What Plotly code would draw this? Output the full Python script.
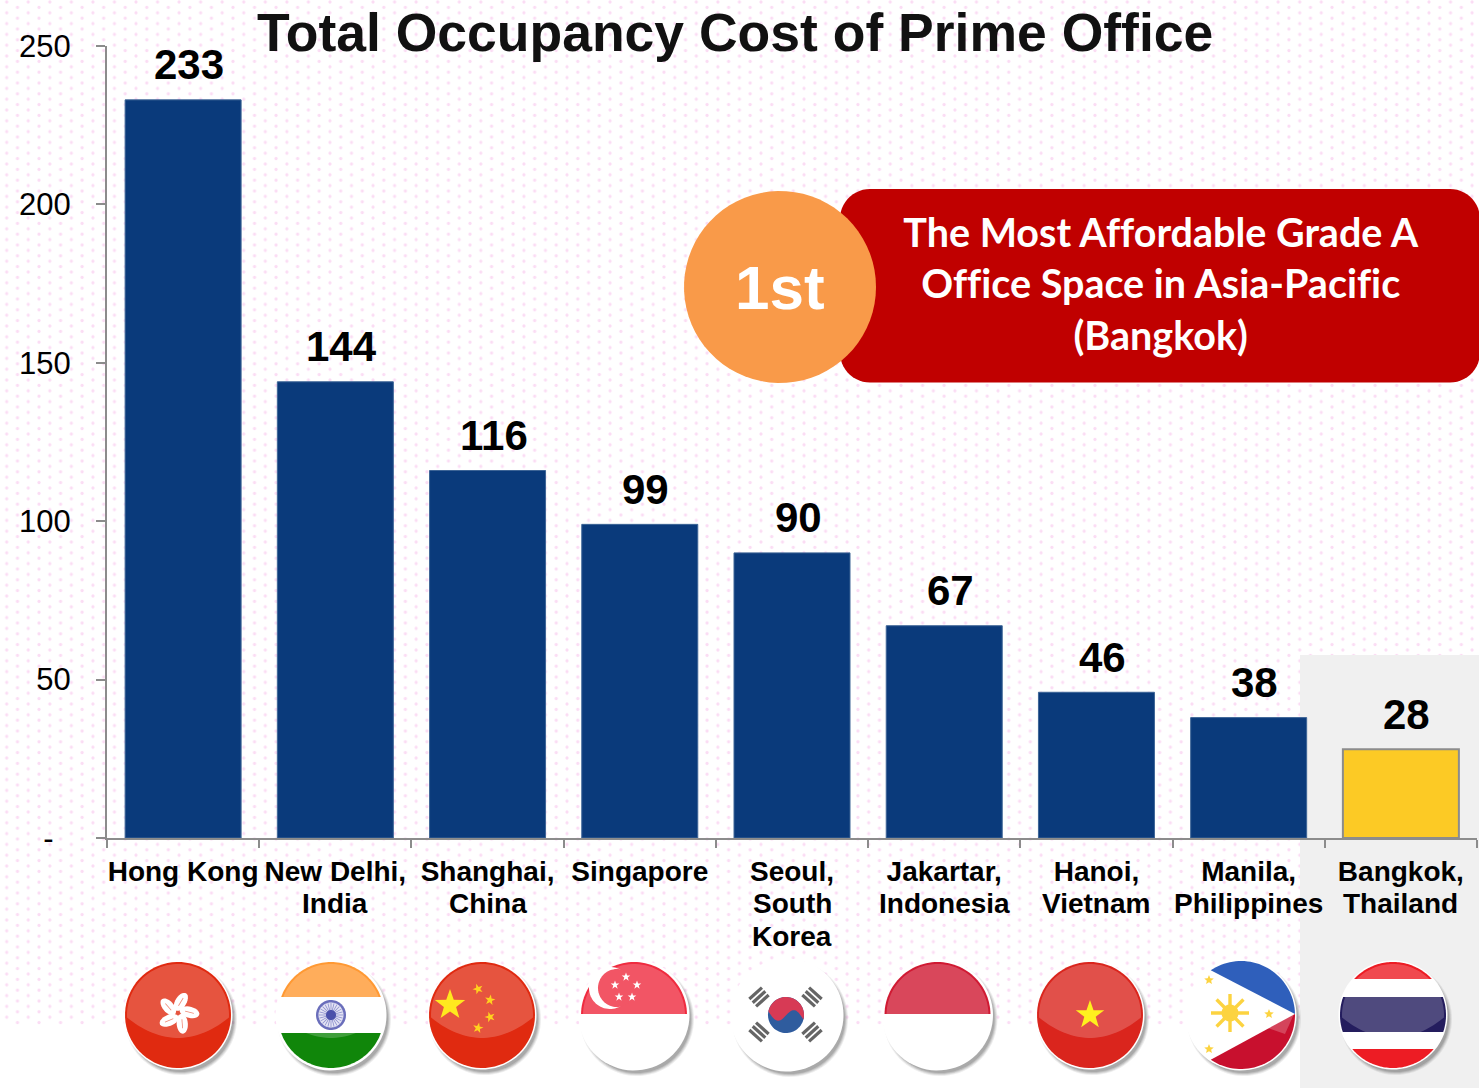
import base64
import numpy as np
import plotly.graph_objects as go

# ---------- data ----------
line1 = ["Hong Kong", "New Delhi,", "Shanghai,", "Singapore", "Seoul,", "Jakartar,", "Hanoi,", "Manila,", "Bangkok,"]
line2 = ["", "India", "China", "", "South", "Indonesia", "Vietnam", "Philippines", "Thailand"]
line3 = ["", "", "", "", "Korea", "", "", "", ""]
values = [233, 144, 116, 99, 90, 67, 46, 38, 28]
y_ticks = [0, 50, 100, 150, 200, 250]
y_labels = ["-\u00a0\u00a0", "50", "100", "150", "200", "250"]
title_text = "Total Occupancy Cost of Prime Office"
callout_text = "The Most Affordable Grade A<br>Office Space in Asia-Pacific<br>(Bangkok)"
rank_text = "1st"

W, H = 1479, 1088
AX_L, AX_R, AX_T, AX_B = 107, 1477, 46, 838
ARIAL = "Liberation Sans"
NAVY, GOLD, AXIS = "#0A3A7B", "#FCCA25", "#8C8C8C"
categories = [a + " " + b + " " + c for a, b, c in zip(line1, line2, line3)]
colors = [NAVY] * 8 + [GOLD]
outlines = ["#3D6496"] * 8 + [AXIS]
outline_w = [1] * 8 + [2]

shapes = []


def P(x, y):
    return f"{x / W:.5f},{1 - y / H:.5f}"


def poly(pts, fill, opacity=1.0, layer="above"):
    d = "M" + "L".join(P(x, y) for x, y in pts) + "Z"
    shapes.append(dict(type="path", xref="paper", yref="paper", path=d, fillcolor=fill,
                       line=dict(width=0), opacity=opacity, layer=layer))


def circ_pts(cx, cy, r, n=72, a0=0.0, a1=2 * np.pi):
    return [(cx + r * np.cos(t), cy + r * np.sin(t)) for t in np.linspace(a0, a1, n)]


def circ(cx, cy, r, fill, opacity=1.0):
    poly(circ_pts(cx, cy, r), fill, opacity)


def band(cx, cy, r, y0, y1, fill):
    """part of a circle between two horizontal lines"""
    s0 = np.clip((y0 - cy) / r, -1, 1)
    s1 = np.clip((y1 - cy) / r, -1, 1)
    right = [(cx + r * np.cos(t), cy + r * np.sin(t)) for t in np.linspace(np.arcsin(s0), np.arcsin(s1), 30)]
    left = [(2 * cx - x, y) for x, y in reversed(right)]
    poly(right + left, fill)


def star(cx, cy, r, fill, rot=-np.pi / 2, inner=0.4, tips=5):
    pts = []
    for i in range(tips * 2):
        rad = r if i % 2 == 0 else r * inner
        t = rot + i * np.pi / tips
        pts.append((cx + rad * np.cos(t), cy + rad * np.sin(t)))
    poly(pts, fill)


def rbar(cx, cy, ln, th, ang, fill, opacity=1.0):
    c, s = np.cos(ang), np.sin(ang)
    pts = [(cx + a * c - b * s, cy + a * s + b * c)
           for a, b in [(-ln / 2, -th / 2), (ln / 2, -th / 2), (ln / 2, th / 2), (-ln / 2, th / 2)]]
    poly(pts, fill, opacity)


def ellipse(cx, cy, a, b, ang, fill):
    c, s = np.cos(ang), np.sin(ang)
    pts = [(cx + a * np.cos(t) * c - b * np.sin(t) * s, cy + a * np.cos(t) * s + b * np.sin(t) * c)
           for t in np.linspace(0, 2 * np.pi, 30)]
    poly(pts, fill)


def gloss(cx, cy, r):
    rr = r - 2
    d = np.arcsin(0.05)
    top = [(cx + rr * np.cos(t), cy - rr * np.sin(t)) for t in np.linspace(-d, np.pi + d, 50)]
    curve = [(cx + rr * t, cy + rr * (0.05 + 0.4 * (1 - t * t))) for t in np.linspace(-np.cos(d), np.cos(d), 30)]
    poly(top + curve, "#FFFFFF", 0.2)


def base(cx, cy, r):
    for k, op in [(4, 0.10), (3, 0.14), (2, 0.18), (1, 0.22)]:
        circ(cx + 3, cy + 4, r + k - 1, "#555555", op)
    circ(cx, cy, r + 1.5, "#FFFFFF")


# ---------- callout ----------
def rrect(x0, y0, x1, y1, r, fill):
    pts = []
    for cx, cy, a in [(x1 - r, y0 + r, -np.pi / 2), (x1 - r, y1 - r, 0), (x0 + r, y1 - r, np.pi / 2), (x0 + r, y0 + r, np.pi)]:
        pts += circ_pts(cx, cy, r, 14, a, a + np.pi / 2)
    poly(pts, fill)


# ---------- background panel ----------
shapes.append(dict(type="rect", xref="paper", yref="paper", x0=1300 / W, x1=1, y0=0, y1=1 - 655 / H,
                   fillcolor="#F0F0F0", line=dict(width=0), layer="below"))
rrect(840, 189, 1480, 382.5, 30, "#C00000")
circ(780, 287, 96, "#F99A49")

# ---------- flags ----------
R = 53
FY = 1015
# Hong Kong
cx = 178
base(cx, FY, R)
circ(cx, FY, R, "#E02A10")
gloss(cx, FY, R)
for i in range(5):
    t = -np.pi / 2 + 0.25 + i * 2 * np.pi / 5
    ellipse(cx + 11.5 * np.cos(t), FY - 2 + 11.5 * np.sin(t), 10, 5.6, t + 0.3, "#FFFFFF")
    rbar(cx + 11.5 * np.cos(t), FY - 2 + 11.5 * np.sin(t), 9, 0.8, t + 0.3, "#F08A78")
# India
cx = 331
base(cx, FY, R + 1)
circ(cx, FY, R + 1, "#FFFFFF")
band(cx, FY, R, FY - 60, FY - 18, "#FF9933")
band(cx, FY, R, FY + 18, FY + 60, "#10860A")
gloss(cx, FY, R)
circ(cx, FY, 15, "#6A6EBB")
circ(cx, FY, 12.5, "#E4E4F4")
for i in range(12):
    rbar(cx, FY, 24, 0.8, i * np.pi / 12, "#8A8DCC")
circ(cx, FY, 5, "#4A50AA")
# China
cx = 482
base(cx, FY, R)
circ(cx, FY, R, "#E02A10")
gloss(cx, FY, R)
star(450, 1005, 16, "#FFE81E")
for sx, sy, rot in [(478, 989, 0.6), (490, 1000, 1.1), (490, 1017, 1.9), (478, 1028, 2.4)]:
    star(sx, sy, 5.5, "#FFD21E", rot=rot)
# Singapore
cx = 634
base(cx, FY, R + 1)
circ(cx, FY, R + 1, "#FFFFFF")
band(cx, FY, R, FY - 60, FY - 1, "#EF2B3F")
gloss(cx, FY, R)
band(cx, FY, R + 1, FY - 1, FY + 54, "#FFFFFF")
circ(610, 988, 21, "#FFFFFF")
circ(617, 988, 19, "#F25565")
for sx, sy in [(626, 977), (637, 985), (632, 997), (619, 997), (615, 985)]:
    star(sx, sy, 4.5, "#FFFFFF")
# South Korea
cx = 786
base(cx + 1, FY, R + 2)
circ(cx + 1, FY, R + 2, "#FFFFFF")
circ(cx, FY, 18, "#2F5C9E")
top = [(cx + 18 * np.cos(t), FY + 18 * np.sin(t)) for t in np.linspace(np.pi + 0.25, 2 * np.pi + 0.25, 40)]
wave = [(cx + 18 * np.cos(0.25) - 35 * s, FY + 18 * np.sin(0.25) - 6 * np.sin(2 * np.pi * s) * 1.2 - 8 * s * 1.0)
        for s in np.linspace(0, 1, 30)]
poly(top + wave, "#D73A55")
for tx, ty, ang in [(759, 997, np.pi / 4 + 0.05), (812, 997, -np.pi / 4 - 0.05),
                    (759, 1032, -np.pi / 4 - 0.05), (812, 1032, np.pi / 4 + 0.05)]:
    for off in (-5, 0, 5):
        rbar(tx + off * np.cos(ang), ty + off * np.sin(ang), 3.2, 17, ang, "#4A4A4A", 0.85)
# Indonesia
cx = 937.5
base(cx, FY, R + 1)
circ(cx, FY, R + 1, "#FFFFFF")
band(cx, FY, R, FY - 60, FY - 1, "#D01A33")
gloss(cx, FY, R)
band(cx, FY, R + 1, FY - 1, FY + 54, "#FFFFFF")
# Vietnam
cx = 1090
base(cx, FY, R)
circ(cx, FY, R, "#DA251D")
gloss(cx, FY, R)
star(cx, FY, 15, "#FFF01E")
# Philippines
cx = 1241
fr = R + 1
base(cx, FY, fr)
circ(cx, FY, fr, "#FFFFFF")
a_ap = np.arctan2(-1 / fr, 1)
a_tp = np.arctan2(971.7 - FY, 1211.7 - cx)
poly(circ_pts(cx, FY, fr, 40, a_tp, a_ap), "#2F5FBB")
a_bt = np.arctan2(1058.3 - FY, 1211.7 - cx)
poly(circ_pts(cx, FY, fr, 40, a_ap, a_bt), "#C8102E")
gloss_pts = [(1294, 1014), (1285, 1034), (1268, 1028)]
poly(gloss_pts, "#FFFFFF", 0.22)
circ(1230, 1013, 8.5, "#FCD340")
for i in range(4):
    rbar(1230, 1013, 38, 3.4, i * np.pi / 4, "#FCD340")
for sx, sy in [(1209, 980), (1209, 1049), (1269, 1014)]:
    star(sx, sy, 5, "#FCD340", inner=0.45)
# Thailand
cx = 1393
base(cx, FY, R)
circ(cx, FY, R, "#FFFFFF")
band(cx, FY, R, FY - 60, 979, "#ED1C24")
band(cx, FY, R, 997, 1032, "#241D5E")
band(cx, FY, R, 1049, FY + 60, "#ED1C24")
gloss(cx, FY, R)

# ---------- dotted background ----------
DOT = "#FBDCF4"
svg = (f'<svg xmlns="http://www.w3.org/2000/svg" width="{W}" height="1025" viewBox="0 0 {W} 1025">'
       '<defs><pattern id="d" x="6.7" y="2" width="21.55" height="10.8" patternUnits="userSpaceOnUse">'
       f'<circle cx="0" cy="0" r="1.6" fill="{DOT}"/><circle cx="21.55" cy="0" r="1.6" fill="{DOT}"/>'
       f'<circle cx="0" cy="10.8" r="1.6" fill="{DOT}"/><circle cx="21.55" cy="10.8" r="1.6" fill="{DOT}"/>'
       f'<circle cx="10.78" cy="5.4" r="1.6" fill="{DOT}"/></pattern></defs>'
       f'<rect width="{W}" height="1025" fill="url(#d)"/></svg>')
dots = "data:image/svg+xml;base64," + base64.b64encode(svg.encode()).decode()

# ---------- figure ----------
fig = go.Figure(go.Bar(
    x=categories, y=values, width=0.762,
    marker=dict(color=colors, line=dict(color=outlines, width=outline_w)),
    showlegend=False, hoverinfo="x+y",
))

annotations = []
for c, v in zip(categories, values):
    annotations.append(dict(x=c, y=v, xref="x", yref="y", text=str(v), showarrow=False, xshift=6, yshift=35,
                            yanchor="middle", font=dict(family=ARIAL, size=42, color="#000000", weight=700)))
for c, l2, l3 in zip(categories, line2, line3):
    for txt, dy in [(l2, -65), (l3, -98)]:
        if txt:
            annotations.append(dict(x=c, y=0, xref="x", yref="y", text=txt, showarrow=False, yshift=dy,
                                    yanchor="middle",
                                    font=dict(family=ARIAL, size=28, color="#000000", weight=700)))
annotations.append(dict(x=1161 / W, y=1 - 283.5 / H, xref="paper", yref="paper", text=callout_text, showarrow=False,
                        xanchor="center", yanchor="middle", align="center",
                        font=dict(family="Lato", size=39.5, color="#FFFFFF", weight=700)))
annotations.append(dict(x=780 / W, y=1 - 288 / H, xref="paper", yref="paper", text=rank_text, showarrow=False,
                        xanchor="center", yanchor="middle",
                        font=dict(family=ARIAL, size=62, color="#FFFFFF", weight=700)))
annotations.append(dict(x=735 / W, y=1 - 33 / H, xref="paper", yref="paper", text=title_text, showarrow=False,
                        xanchor="center", yanchor="middle",
                        font=dict(family=ARIAL, size=53.5, color="#111111", weight=700)))

fig.update_layout(
    width=W, height=H, autosize=False, template="none",
    margin=dict(l=0, r=0, t=0, b=0, pad=0),
    paper_bgcolor="#FFFFFF", plot_bgcolor="rgba(0,0,0,0)",
    showlegend=False, shapes=shapes, annotations=annotations,
    images=[dict(source=dots, xref="paper", yref="paper", x=0, y=1, sizex=1, sizey=1025 / H,
                 xanchor="left", yanchor="top", sizing="stretch", layer="below")],
    xaxis=dict(domain=[AX_L / W, AX_R / W], type="category", categoryorder="array", categoryarray=categories,
               range=[-0.5, 8.5], tickmode="array", tickvals=categories, ticktext=line1,
               tickson="boundaries", ticks="outside", ticklen=8, tickwidth=2, tickcolor=AXIS,
               showline=True, linecolor=AXIS, linewidth=2, showgrid=False, zeroline=False,
               tickangle=0, automargin=False, ticklabelstandoff=7,
               tickfont=dict(family=ARIAL, size=28, color="#000000", weight=700)),
    yaxis=dict(domain=[1 - AX_B / H, 1 - AX_T / H], range=[0, 250], tickmode="array", tickvals=y_ticks,
               ticktext=y_labels, ticks="outside", ticklen=9, tickwidth=2, tickcolor=AXIS,
               showline=True, linecolor=AXIS, linewidth=2, showgrid=False, zeroline=False,
               automargin=False, ticklabelstandoff=19,
               tickfont=dict(family=ARIAL, size=31, color="#000000")),
)

fig.write_html(
    "out.html",
    config={"displayModeBar": False},
    post_script=("document.body.style.margin='0';document.body.style.overflow='hidden';"
                 "document.head.insertAdjacentHTML('beforeend','<style>svg text{font-variant-ligatures:none !important;"
                 "font-feature-settings:\"liga\" 0,\"clig\" 0 !important;text-rendering:optimizeSpeed !important}</style>');"),
)
